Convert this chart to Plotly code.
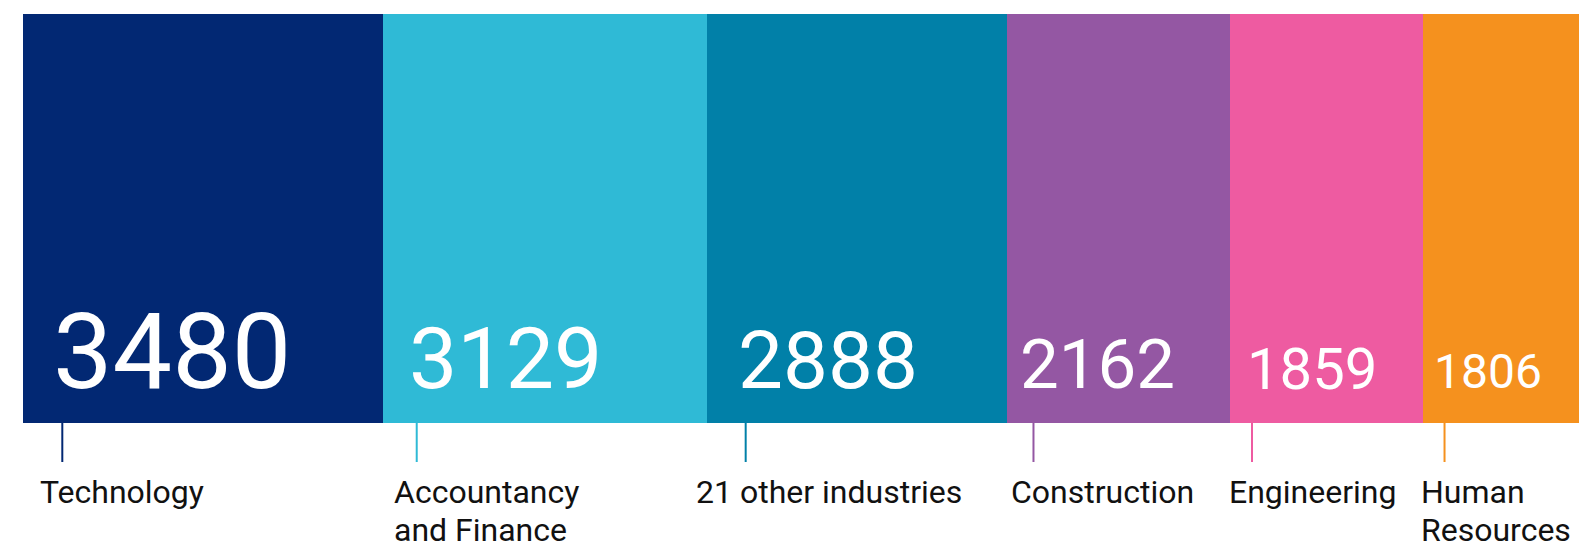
import plotly.graph_objects as go
import numpy as np

# ---- data ----
industries = ["Technology", "Accountancy<br>and Finance", "21 other industries",
              "Construction", "Engineering", "Human<br>Resources"]
counts = [3480, 3129, 2888, 2162, 1859, 1806]
colors = ["#022873", "#2FBAD6", "#0180A8", "#9457A3", "#EE5BA1", "#F5911E"]

# ---- styling ----
num_font_sizes = [106, 86, 80, 69, 58, 48]
num_dx = [27.6, 23.8, 28.9, 11.5, 14.6, 8.7]    # px from segment start
tick_dx = [39.3, 33.3, 38.2, 26.9, 21.5, 21.5]  # px from segment start
label_dx = [15, 8.3, -13.5, 2.9, -3.5, -4.2]    # px from segment start
label_size = 32
line_gap = 38.4
x_visible_max = 15024

vals = np.array(counts, dtype=float)
starts = np.concatenate([[0], np.cumsum(vals)[:-1]])
centers = starts + vals / 2

fig = go.Figure()
fig.add_trace(go.Bar(
    x=centers, y=[1] * len(counts), width=vals,
    marker=dict(color=colors, line=dict(width=0)),
    hoverinfo="skip", showlegend=False,
))

annotations = []
shapes = []
for i, (name, v) in enumerate(zip(industries, counts)):
    fs = num_font_sizes[i]
    annotations.append(dict(
        x=starts[i], xref="x", y=0, yref="paper",
        xanchor="left", yanchor="bottom",
        xshift=num_dx[i], yshift=32.5 - 0.244 * fs,
        text=str(v), showarrow=False,
        font=dict(family="Roboto", size=fs, color="white"),
    ))
    shapes.append(dict(
        type="line", xref="x", xsizemode="pixel", xanchor=starts[i],
        x0=tick_dx[i], x1=tick_dx[i],
        yref="paper", ysizemode="pixel", yanchor=0, y0=0, y1=-39,
        line=dict(color=colors[i], width=2),
    ))
    for j, line in enumerate(name.split("<br>")):
        annotations.append(dict(
            x=starts[i], xref="x", y=0, yref="paper",
            xanchor="left", yanchor="top", align="left",
            xshift=label_dx[i], yshift=-47.5 - j * line_gap,
            text=line, showarrow=False,
            font=dict(family="Roboto", size=label_size, color="#111111"),
        ))

fig.update_layout(
    width=1579, height=547,
    margin=dict(l=23, r=0, t=14, b=124),
    paper_bgcolor="white", plot_bgcolor="white",
    xaxis=dict(range=[0, x_visible_max], visible=False, fixedrange=True),
    yaxis=dict(range=[0, 1], visible=False, fixedrange=True),
    annotations=annotations, shapes=shapes,
    showlegend=False, bargap=0,
)

fig.write_html("out.html",
               config={"displayModeBar": False},
               post_script="document.body.style.margin='0';document.body.style.overflow='hidden';")
